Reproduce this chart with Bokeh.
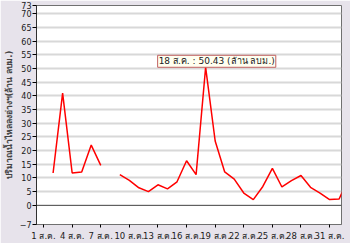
import math
from bokeh.plotting import figure
from bokeh.models import FixedTicker, Span, Label, Range1d
from bokeh.embed import file_html
from bokeh.resources import INLINE

days = list(range(1, 34))
inflow = [float("nan"), 11.8, 41.0, 11.8, 12.2, 22.0, 14.6, float("nan"), 11.2, 9.1,
          6.4, 5.0, 7.5, 6.0, 8.6, 16.3, 11.2, 50.43, 23.5, 12.2,
          9.6, 4.5, 2.1, 6.9, 13.5, 6.7, 9.0, 10.9, 6.6, 4.5,
          2.1, 2.3, 10.0]
tick_days = [1, 4, 7, 10, 13, 16, 19, 22, 25, 28, 31]
tick_labels = [f"{d} ส.ค." for d in tick_days]
y_ticks = [-7, 0, 5, 10, 15, 20, 25, 30, 35, 40, 45, 50, 55, 60, 65, 70, 73]
y_title = "ปริมาณน้ำไหลลงอ่างฯ(ล้าน ลบม.)"
note_text = "18 ส.ค. : 50.43 (ล้าน ลบม.)"

bg = "#e7e3eb"
p = figure(width=350, height=243, output_backend="svg", toolbar_location=None,
           x_range=Range1d(0.26, 32.25), y_range=Range1d(-7, 73),
           min_border_left=34, min_border_right=9, min_border_top=5, min_border_bottom=19)
p.background_fill_color = "white"
p.border_fill_color = bg
p.outline_line_color = "#707070"

p.xaxis.ticker = FixedTicker(ticks=tick_days)
p.xaxis.major_label_overrides = {d: l for d, l in zip(tick_days, tick_labels)}
p.xaxis.axis_line_color = "#707070"
p.xaxis.major_tick_out = 3
p.xaxis.major_tick_in = 0
p.xaxis.minor_tick_line_color = None
p.xaxis.major_label_standoff = 3
p.xaxis.major_label_text_font = "DejaVu Sans"
p.xaxis.major_label_text_font_size = "8.5px"
p.xaxis.major_label_text_color = "#202020"
p.xgrid.grid_line_color = None

p.yaxis.ticker = FixedTicker(ticks=y_ticks)
p.yaxis.axis_line_color = "#303030"
p.yaxis.major_tick_out = 4
p.yaxis.major_tick_in = 0
p.yaxis.minor_tick_line_color = None
p.yaxis.major_label_standoff = 1
p.yaxis.major_label_text_font = "DejaVu Sans"
p.yaxis.major_label_text_font_size = "8px"
p.yaxis.major_label_text_color = "#202020"
p.yaxis.axis_label = y_title
p.yaxis.axis_label_text_font = "DejaVu Sans"
p.yaxis.axis_label_text_font_size = "8.5px"
p.yaxis.axis_label_text_font_style = "bold"
p.yaxis.axis_label_standoff = 3
p.ygrid.ticker = FixedTicker(ticks=[t for t in y_ticks if 0 < t < 73])
p.ygrid.grid_line_color = "#d8d8d8"
p.ygrid.grid_line_width = 2

p.add_layout(Span(location=0, dimension="width", line_color="#404040", line_width=1))

p.line(days, inflow, line_color="#ff0000", line_width=1.5)

lab = Label(x=18, y=50.43, x_offset=-48, y_offset=0, text=note_text,
            text_font="DejaVu Sans", text_font_size="9px", text_color="#202020",
            text_baseline="bottom", text_align="left",
            background_fill_color="#fffff0", border_line_color="#c06060",
            padding=1)
p.add_layout(lab)

open("out.html", "w").write(file_html(p, INLINE))
